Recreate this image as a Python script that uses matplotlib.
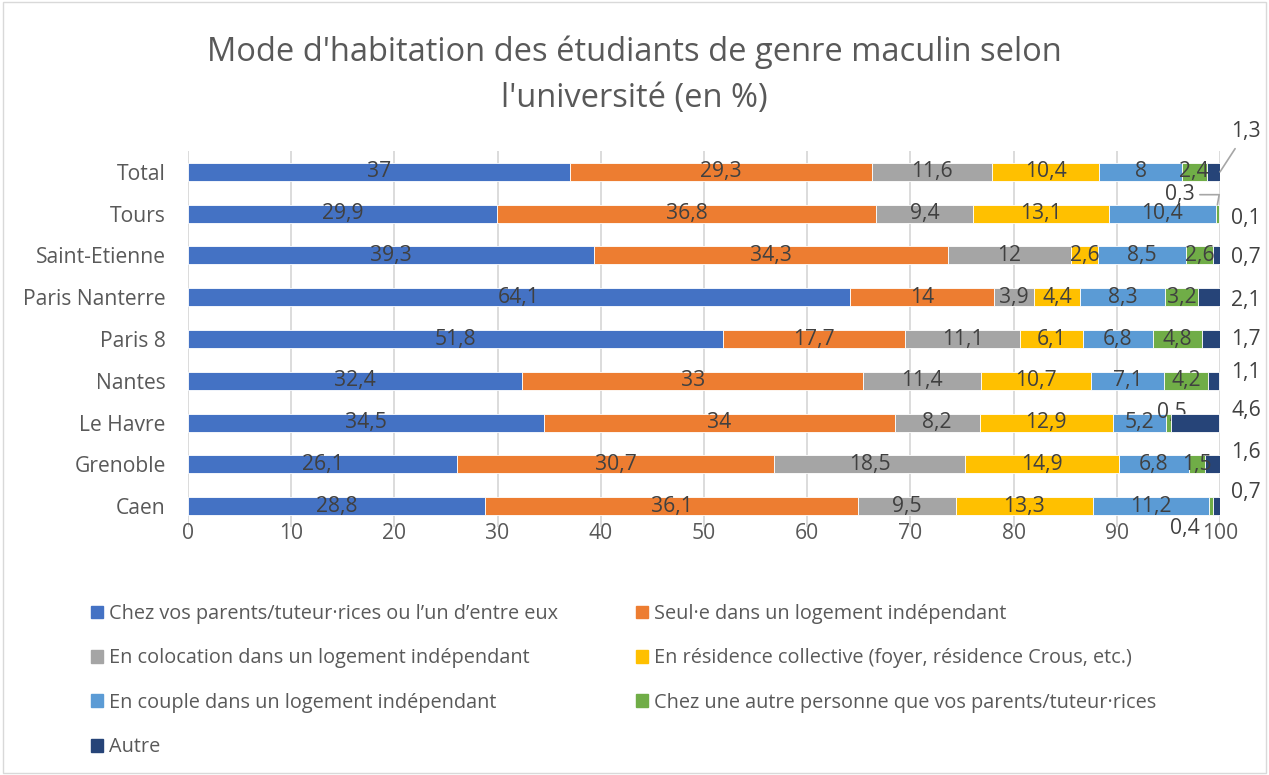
import numpy as np
import matplotlib.pyplot as plt
from matplotlib.patches import Rectangle

plt.rcParams['font.family'] = ['Open Sans', 'DejaVu Sans']

# ── Données (en %) ────────────────────────────────────────────────────────────
universites = ['Total', 'Tours', 'Saint-Etienne', 'Paris Nanterre', 'Paris 8',
               'Nantes', 'Le Havre', 'Grenoble', 'Caen']
parents    = [37, 29.9, 39.3, 64.1, 51.8, 32.4, 34.5, 26.1, 28.8]
seul       = [29.3, 36.8, 34.3, 14, 17.7, 33, 34, 30.7, 36.1]
colocation = [11.6, 9.4, 12, 3.9, 11.1, 11.4, 8.2, 18.5, 9.5]
residence  = [10.4, 13.1, 2.6, 4.4, 6.1, 10.7, 12.9, 14.9, 13.3]
couple     = [8, 10.4, 8.5, 8.3, 6.8, 7.1, 5.2, 6.8, 11.2]
autre_pers = [2.4, 0.3, 2.6, 3.2, 4.8, 4.2, 0.5, 1.5, 0.4]
autre      = [1.3, 0.1, 0.7, 2.1, 1.7, 1.1, 4.6, 1.6, 0.7]

series = ['Chez vos parents/tuteur·rices ou l’un d’entre eux',
          'Seul·e dans un logement indépendant',
          'En colocation dans un logement indépendant',
          'En résidence collective (foyer, résidence Crous, etc.)',
          'En couple dans un logement indépendant',
          'Chez une autre personne que vos parents/tuteur·rices',
          'Autre']
valeurs = [parents, seul, colocation, residence, couple, autre_pers, autre]
couleurs = ['#4472C4', '#ED7D31', '#A5A5A5', '#FFC000', '#5B9BD5', '#70AD47', '#264478']

TXT = '#404040'
GRIS = '#595959'
PX = 0.72  # 1 px -> points (dpi 100)
FS = 15.2


def fmt(v):
    return f'{v:g}'.replace('.', ',')


W, H = 1269, 775
fig = plt.figure(figsize=(W / 100, H / 100), dpi=100, facecolor='white')
ax = fig.add_axes([188 / W, 1 - 527 / H, (1220 - 188) / W, 376 / H])

n = len(universites)
y = np.arange(n)[::-1]
hb = 0.43
left = np.zeros(n)

# étiquettes décalées (hors barre) : (série, ligne) -> (dx px, dy px)
speciaux = {(5, 1): (-38, 10), (5, 6): (3, 10), (5, 8): (-26, -22)}
# décalage vertical des étiquettes "Autre" à droite
autre_dy = [None, -5, -2, -3, -1, 8, 12, 12, 14]

for s, (vals, c) in enumerate(zip(valeurs, couleurs)):
    vals = np.array(vals, dtype=float)
    ax.barh(y, vals, left=left, height=hb, color=c, edgecolor='white',
            linewidth=0.6, label=series[s], zorder=3)
    for i in range(n):
        xc = left[i] + vals[i] / 2
        txt = fmt(vals[i])
        if s == 6:
            if autre_dy[i] is None:
                ax.annotate(txt, xy=(left[i] + vals[i], y[i]),
                            xytext=(26 * PX, 40 * PX), textcoords='offset points',
                            ha='center', va='center', fontsize=FS, color=TXT,
                            arrowprops=dict(arrowstyle='-', color='#A6A6A6',
                                            lw=1.2, shrinkA=3, shrinkB=0))
            else:
                ax.annotate(txt, xy=(100, y[i]), xytext=(26 * PX, autre_dy[i] * PX),
                            textcoords='offset points', ha='center', va='center',
                            fontsize=FS, color=TXT)
        elif (s, i) in speciaux:
            dx, dy = speciaux[(s, i)]
            if (s, i) == (5, 1):
                ax.annotate(txt, xy=(xc, y[i] + hb / 2), xytext=(dx * PX, dy * PX),
                            textcoords='offset points', ha='center', va='center',
                            fontsize=FS, color=TXT,
                            arrowprops=dict(arrowstyle='-', color='#A6A6A6', lw=1.2,
                                            shrinkA=2, shrinkB=0,
                                            connectionstyle='angle,angleA=0,angleB=80,rad=0'))
            else:
                ax.annotate(txt, xy=(xc, y[i]), xytext=(dx * PX, dy * PX),
                            textcoords='offset points', ha='center', va='center',
                            fontsize=FS, color=TXT)
        else:
            ax.text(xc, y[i], txt, ha='center', va='center', fontsize=FS,
                    color=TXT, zorder=4)
    left += vals

ax.set_xlim(0, 100)
ax.set_ylim(-0.5, n - 0.5)
ax.set_xticks(np.arange(0, 101, 10))
ax.set_yticks(y)
ax.set_yticklabels(universites)
ax.tick_params(axis='both', length=0, labelsize=FS, labelcolor=GRIS)
ax.tick_params(axis='y', pad=16)
ax.tick_params(axis='x', pad=-3)
ax.grid(axis='x', color='#D9D9D9', linewidth=1.3, zorder=0)
for sp in ax.spines.values():
    sp.set_visible(False)

fig.text(0.5, 1 - 75 / H,
         "Mode d'habitation des étudiants de genre maculin selon\nl'université (en %)",
         ha='center', va='center', fontsize=23.5, color=GRIS, linespacing=1.5)

# légende en deux colonnes (remplissage par ligne comme Excel)
handles = [Rectangle((0, 0), 1, 1, color=c) for c in couleurs]
for col, x0 in ((0, 91), (1, 636)):
    idx = list(range(col, len(series), 2))
    fig.legend([handles[k] for k in idx], [series[k] for k in idx],
               loc='upper left', bbox_to_anchor=(x0 / W, 1 - 604 / H),
               frameon=False, fontsize=14.3, handlelength=0.62, handleheight=0.62,
               handletextpad=0.3, labelspacing=1.23, borderpad=0,
               borderaxespad=0, labelcolor=GRIS)

fig.patches.append(Rectangle((0.002, 0.002), 0.996, 0.996, transform=fig.transFigure,
                             fill=False, edgecolor='#D9D9D9', linewidth=1))

fig.savefig('out.png', dpi=100, facecolor='white')
